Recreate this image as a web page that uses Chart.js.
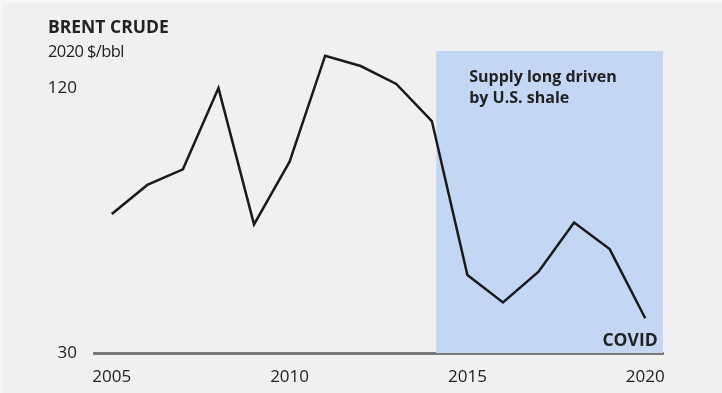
<!DOCTYPE html>
<html>
<head>
<meta charset="utf-8">
<script src="https://cdn.jsdelivr.net/npm/chart.js@4/dist/chart.umd.min.js"></script>
<style>
  html, body { margin: 0; padding: 0; background: #f0f0f0; }
  body { width: 722px; height: 393px; overflow: hidden; box-sizing: border-box; border-top: 3px solid #f7f7f7; border-left: 3px solid #f7f7f7; }
  #wrap { position: absolute; left: 0; top: 0; width: 722px; height: 393px; }
</style>
</head>
<body>
<div id="wrap"><canvas id="c" width="722" height="393"></canvas></div>
<script>
// ---- data ----
const years = [2005, 2006, 2007, 2008, 2009, 2010, 2011, 2012, 2013, 2014, 2015, 2016, 2017, 2018, 2019, 2020];
const brentPrice = [77.2, 87.1, 92.4, 120, 73.7, 95, 131, 127.5, 121.4, 108.8, 56.5, 47.2, 57.6, 74.3, 65.3, 41.8];
const yTickValues = [30, 120];
const xTickValues = [2005, 2010, 2015, 2020];
const shadeRange = [2014.12, 2020.5];
const titleText = "BRENT CRUDE";
const unitText = "2020 $/bbl";
const noteLines = ["Supply long driven", "by U.S. shale"];
const covidText = "COVID";

const FONT = "'Open Sans', 'Noto Sans', sans-serif";
const TEXT = "#222222";
const Y_MIN = 30, Y_MAX = 132.6;

const textPlugin = {
  id: 'texts',
  afterDraw(chart) {
    const ctx = chart.ctx;
    const xs = chart.scales.x;
    ctx.save();
    ctx.fillStyle = TEXT;
    ctx.textBaseline = 'middle';
    ctx.textAlign = 'left';
    ctx.font = "bold 17.5px " + FONT;
    ctx.fillText(titleText, 48, 28);
    ctx.font = "16.5px " + FONT;
    ctx.letterSpacing = "-0.6px";
    ctx.fillText(unitText, 48, 52);
    ctx.letterSpacing = "0px";
    // annotation
    ctx.font = "bold 16px " + FONT;
    const nx = xs.getPixelForValue(2015.05);
    noteLines.forEach((t, i) => ctx.fillText(t, nx, 77 + i * 21.6));
    ctx.font = "bold 17.5px " + FONT;
    ctx.textAlign = 'right';
    ctx.fillText(covidText, xs.getPixelForValue(2020.35), 341);
    ctx.restore();
  }
};

const ctx = document.getElementById('c').getContext('2d');
new Chart(ctx, {
  type: 'scatter',
  data: {
    datasets: [
      {
        data: years.map((y, i) => ({ x: y, y: brentPrice[i] })),
        showLine: true,
        borderColor: '#1a1a1a',
        borderWidth: 2.5,
        pointRadius: 0,
        tension: 0,
        order: 0
      },
      {
        data: shadeRange.map(x => ({ x: x, y: Y_MAX })),
        showLine: true,
        borderWidth: 0,
        borderColor: 'rgba(0,0,0,0)',
        backgroundColor: '#c3d7f5',
        fill: 'start',
        pointRadius: 0,
        order: 1
      }
    ]
  },
  options: {
    responsive: false,
    animation: false,
    layout: { padding: { left: 0, right: 59, top: 51, bottom: 0 } },
    plugins: { legend: { display: false }, tooltip: { enabled: false } },
    scales: {
      x: {
        type: 'linear',
        min: 2004.5,
        max: 2020.5,
        afterBuildTicks: s => { s.ticks = xTickValues.map(v => ({ value: v })); },
        afterFit: s => { s.height = 40; },
        grid: { display: false, drawTicks: false },
        border: { display: true, color: '#7a7a7a', width: 3 },
        ticks: {
          color: TEXT,
          font: { family: FONT, size: 17 },
          padding: 14,
          maxRotation: 0,
          autoSkip: false,
          callback: v => String(v)
        }
      },
      y: {
        min: Y_MIN,
        max: Y_MAX,
        afterBuildTicks: s => { s.ticks = yTickValues.map(v => ({ value: v })); },
        afterFit: s => { s.width = 94; },
        grid: { display: false, drawTicks: false },
        border: { display: false },
        ticks: {
          color: TEXT,
          font: { family: FONT, size: 17 },
          padding: 17,
          autoSkip: false,
          callback: v => String(v)
        }
      }
    }
  },
  plugins: [textPlugin]
});
</script>
</body>
</html>
